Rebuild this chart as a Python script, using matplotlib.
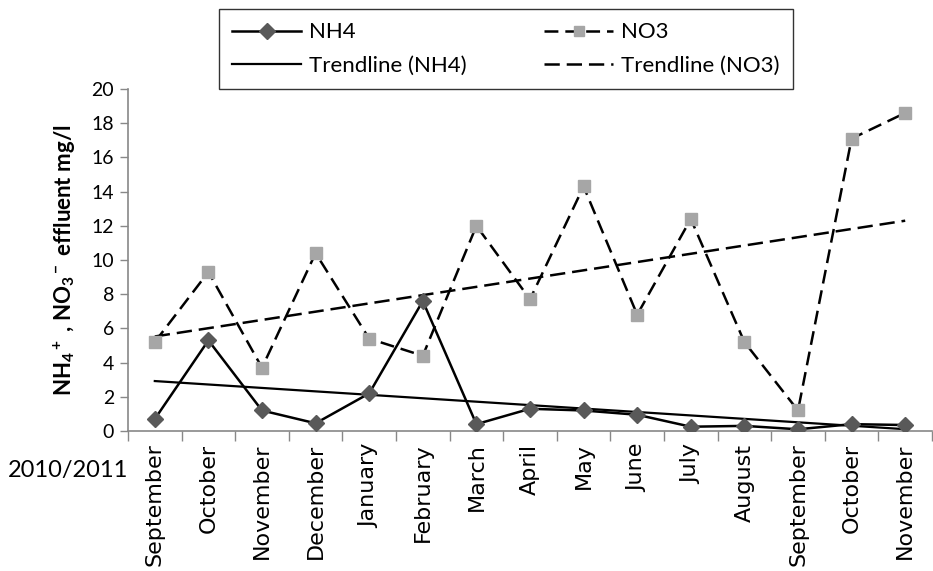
import numpy as np
import matplotlib
matplotlib.use("Agg")
import matplotlib.pyplot as plt

months = ["September", "October", "November", "December", "January", "February",
          "March", "April", "May", "June", "July", "August", "September",
          "October", "November"]
nh4 = [0.7, 5.3, 1.2, 0.45, 2.2, 7.6, 0.4, 1.3, 1.2, 0.95, 0.25, 0.3, 0.1, 0.4, 0.35]
no3 = [5.2, 9.3, 3.7, 10.4, 5.4, 4.4, 12.0, 7.7, 14.3, 6.8, 12.4, 5.2, 1.2, 17.1, 18.6]
yticks = [0, 2, 4, 6, 8, 10, 12, 14, 16, 18, 20]
period_label = "2010/2011"

plt.rcParams['lines.scale_dashes'] = False
plt.rcParams['mathtext.fontset'] = 'custom'
plt.rcParams['mathtext.rm'] = 'Lato:bold'
plt.rcParams['mathtext.it'] = 'Lato:bold'
plt.rcParams['mathtext.bf'] = 'Lato:bold'
narrow = ['Lato', 'DejaVu Sans']

fig = plt.figure(figsize=(9.33, 5.71), dpi=100)
ax = fig.add_axes([128/933, 1-431/571, (932-128)/933, (431-89)/571])

x = np.arange(len(months))
ln1, = ax.plot(x, nh4, color='black', lw=1.8, marker='D', ms=8.5,
               mfc='#595959', mec='#595959', label='NH4', zorder=3)
ln2, = ax.plot(x, no3, color='black', lw=1.8, dashes=(10, 5), marker='s', ms=8.5,
               mfc='#A6A6A6', mec='#A6A6A6', label='NO3', zorder=3)
p1 = np.polyfit(x, nh4, 1)
p2 = np.polyfit(x, no3, 1)
tr1, = ax.plot(x, np.polyval(p1, x), color='black', lw=1.6, label='Trendline (NH4)', zorder=2)
tr2, = ax.plot(x, np.polyval(p2, x), color='black', lw=1.8, dashes=(11, 5),
               label='Trendline (NO3)', zorder=2)

ax.set_xlim(-0.5, len(months) - 0.5)
ax.set_ylim(0, 20)
ax.set_yticks(yticks)
ax.set_yticklabels([str(v) for v in yticks], family=narrow, fontsize=14)
ax.set_xticks(x)
ax.set_xticklabels(months, rotation=90, fontsize=16, family='DejaVu Sans')
ax.set_xticks(np.arange(-0.5, len(months), 1), minor=True)
ax.tick_params(axis='x', which='major', length=0, pad=9)
ax.tick_params(axis='x', which='minor', length=7, color='#888888', width=1)
ax.tick_params(axis='y', length=6, color='#888888', width=1, pad=4)

for s in ['top', 'right']:
    ax.spines[s].set_visible(False)
for s in ['left', 'bottom']:
    ax.spines[s].set_color('#888888')
    ax.spines[s].set_linewidth(1.2)

ax.set_ylabel(r'NH$_4$$^+$ , NO$_3$$^-$ effluent mg/l', fontsize=16, fontweight='bold',
              family=narrow, labelpad=10)
fig.text(8/933, 1-470/571, period_label, family=narrow, fontsize=17, va='center', ha='left')

leg = fig.legend(handles=[ln1, tr1, ln2, tr2], ncol=2, loc='upper left',
                 bbox_to_anchor=(219/933, 1-9/571), frameon=True, fancybox=False,
                 edgecolor='black', prop={'family': narrow, 'size': 16},
                 handlelength=3.1, handletextpad=0.35, columnspacing=3.5,
                 borderpad=0.6, labelspacing=0.6, borderaxespad=0, markerscale=0.9)
leg.get_frame().set_linewidth(1.0)

fig.savefig('out.png', dpi=100)
